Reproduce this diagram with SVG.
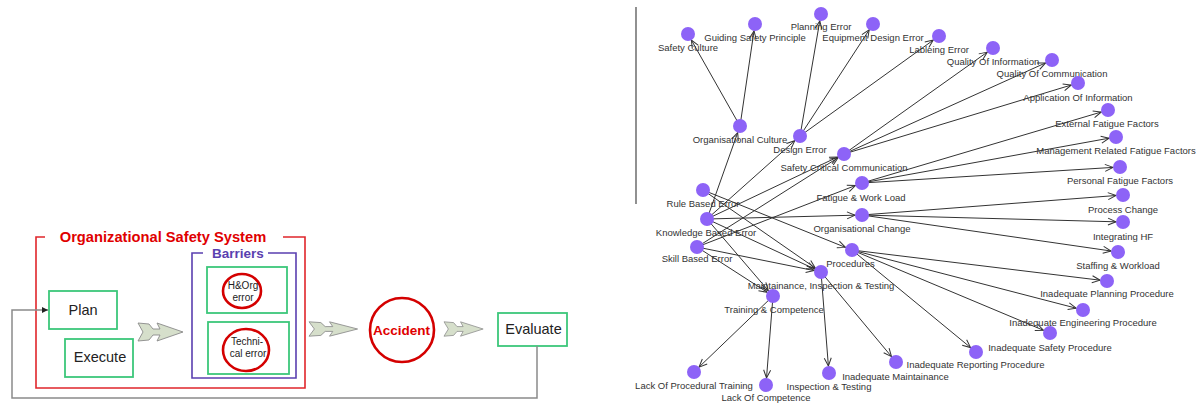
<svg xmlns="http://www.w3.org/2000/svg" width="1202" height="403" viewBox="0 0 1202 403">
  <style>
    .frame-red { fill: none; stroke: #e0262b; stroke-width: 1.6; }
    .frame-blue { fill: none; stroke: #5a3fb0; stroke-width: 1.6; }
    .gbox { fill: #ffffff; stroke: #3cc77a; stroke-width: 1.8; }
    .rcirc { fill: #ffffff; stroke: #d40000; stroke-width: 2.6; }
    .chev { fill: #d6dfcb; stroke: #8a8a8a; stroke-width: 0.9; }
    .lbl { font-family: "Liberation Sans", Arial, sans-serif; fill: #222; text-anchor: middle; }
    .edge { stroke: #333; stroke-width: 1; fill: none; marker-end: url(#open); }
    .node circle { fill: #8d63f7; }
    .node text { font-family: "Liberation Sans", Arial, sans-serif; font-size: 9.5px; fill: #333; text-anchor: middle; }
  </style>
  <defs>
    <marker id="open" viewBox="-9 -5 10 10" refX="0" refY="0" markerWidth="10" markerHeight="10" markerUnits="userSpaceOnUse" orient="auto">
      <path d="M-8,-3.5 L0,0 L-8,3.5" fill="none" stroke="#333" stroke-width="1"/>
    </marker>
    <marker id="solid" viewBox="-7 -4 8 8" refX="0" refY="0" markerWidth="8" markerHeight="8" markerUnits="userSpaceOnUse" orient="auto">
      <path d="M-6,-3 L0,0 L-6,3 Z" fill="#222"/>
    </marker>
    <path id="chevron" d="M0,-9 L11,-8 L15,-3 L22,-3 L19,-9 L45,0 L19,9 L22,3 L15,3 L11,8 L0,9 L5,0 Z"/>
  </defs>

  <rect width="1202" height="403" fill="#ffffff"/>

  <!-- ===== Safety management loop ===== -->
  <g id="safety-system">
    <path class="frame-red" d="M45,237 H36 V388 H305 V237 H283"/>
    <text x="163" y="242" class="lbl" font-size="14.7" font-weight="bold" style="fill:#e00000">Organizational Safety System</text>
  </g>

  <g id="barriers">
    <path class="frame-blue" d="M203,253 H192 V378 H296 V253 H268"/>
    <text x="238" y="258" class="lbl" font-size="13.5" font-weight="bold" style="fill:#5a3fb0">Barriers</text>
  </g>

  <g id="plan">
    <rect class="gbox" x="49" y="291" width="68" height="38"/>
    <text x="83" y="315" class="lbl" font-size="14.5">Plan</text>
  </g>

  <g id="execute">
    <rect class="gbox" x="65" y="339" width="68" height="38"/>
    <text x="100" y="362" class="lbl" font-size="14.5">Execute</text>
  </g>

  <g id="hog-error">
    <rect class="gbox" x="207" y="267" width="80" height="46"/>
    <ellipse class="rcirc" cx="242" cy="291" rx="19" ry="17"/>
    <text x="243" y="289" class="lbl" font-size="10">H&amp;Org</text>
    <text x="243" y="301" class="lbl" font-size="10">error</text>
  </g>

  <g id="technical-error">
    <rect class="gbox" x="208" y="322" width="81" height="52"/>
    <ellipse class="rcirc" cx="246" cy="350" rx="23" ry="21"/>
    <text x="247" y="345" class="lbl" font-size="10">Techni-</text>
    <text x="248" y="357" class="lbl" font-size="10">cal error</text>
  </g>

  <g id="accident">
    <circle class="rcirc" cx="402" cy="330" r="32"/>
    <text x="401.5" y="335" class="lbl" font-size="13.5" font-weight="bold" style="fill:#e00000">Accident</text>
  </g>

  <g id="evaluate">
    <rect class="gbox" x="498" y="313" width="69" height="33"/>
    <text x="533.5" y="334" class="lbl" font-size="14.5">Evaluate</text>
  </g>

  <g id="flow">
    <use href="#chevron" class="chev" transform="translate(138,332)"/>
    <use href="#chevron" class="chev" transform="translate(309,329) scale(1.08,0.8)"/>
    <use href="#chevron" class="chev" transform="translate(444,329) scale(0.87,0.8)"/>
    <path d="M537,346 V398 H12 V310 H48" fill="none" stroke="#8a8a8a" stroke-width="1.5" marker-end="url(#solid)"/>
  </g>

  <!-- separator -->
  <line x1="636" y1="7" x2="636" y2="204" stroke="#555" stroke-width="1.3"/>

  <!-- ===== Causal network ===== -->
  <g id="connectors">
    <line class="edge" x1="740" y1="126" x2="691.4" y2="40.1"/>
    <line class="edge" x1="740" y1="126" x2="754.0" y2="30.9"/>
    <line class="edge" x1="800" y1="136" x2="819.8" y2="20.9"/>
    <line class="edge" x1="800" y1="136" x2="869.2" y2="29.9"/>
    <line class="edge" x1="800" y1="136" x2="933.3" y2="40.1"/>
    <line class="edge" x1="844" y1="154" x2="987.3" y2="52.1"/>
    <line class="edge" x1="844" y1="154" x2="1045.6" y2="62.9"/>
    <line class="edge" x1="844" y1="154" x2="1071.3" y2="85.0"/>
    <line class="edge" x1="862" y1="183" x2="1101.3" y2="112.0"/>
    <line class="edge" x1="862" y1="183" x2="1109.1" y2="138.2"/>
    <line class="edge" x1="862" y1="183" x2="1113.0" y2="167.4"/>
    <line class="edge" x1="862" y1="215" x2="1116.0" y2="195.5"/>
    <line class="edge" x1="862" y1="215" x2="1116.0" y2="221.8"/>
    <line class="edge" x1="862" y1="215" x2="1111.1" y2="251.0"/>
    <line class="edge" x1="852" y1="250" x2="1100.1" y2="280.2"/>
    <line class="edge" x1="852" y1="250" x2="1076.2" y2="308.2"/>
    <line class="edge" x1="852" y1="250" x2="1043.5" y2="330.3"/>
    <line class="edge" x1="852" y1="250" x2="970.6" y2="347.6"/>
    <line class="edge" x1="821" y1="272" x2="891.5" y2="356.6"/>
    <line class="edge" x1="821" y1="272" x2="828.4" y2="366.0"/>
    <line class="edge" x1="773" y1="296" x2="699.0" y2="367.1"/>
    <line class="edge" x1="773" y1="296" x2="766.5" y2="378.0"/>
    <line class="edge" x1="707" y1="219" x2="737.7" y2="132.6"/>
    <line class="edge" x1="707" y1="219" x2="794.8" y2="140.7"/>
    <line class="edge" x1="707" y1="219" x2="837.7" y2="157.0"/>
    <line class="edge" x1="707" y1="219" x2="855.0" y2="215.2"/>
    <line class="edge" x1="707" y1="219" x2="768.4" y2="290.7"/>
    <line class="edge" x1="707" y1="219" x2="814.7" y2="269.0"/>
    <line class="edge" x1="703" y1="190" x2="845.5" y2="247.4"/>
    <line class="edge" x1="703" y1="190" x2="815.3" y2="268.0"/>
    <line class="edge" x1="697" y1="247" x2="838.1" y2="157.7"/>
    <line class="edge" x1="697" y1="247" x2="855.5" y2="185.5"/>
    <line class="edge" x1="697" y1="247" x2="814.1" y2="270.6"/>
    <line class="edge" x1="697" y1="247" x2="767.1" y2="292.2"/>
  </g>

  <g id="n-safety-culture" class="node"><circle cx="688" cy="34" r="7"/><text x="688" y="50.5">Safety Culture</text></g>
  <g id="n-guiding-safety-principle" class="node"><circle cx="755" cy="24" r="7"/><text x="755" y="40.5">Guiding Safety Principle</text></g>
  <g id="n-planning-error" class="node"><circle cx="821" cy="14" r="7"/><text x="821" y="29.5">Planning Error</text></g>
  <g id="n-equipment-design-error" class="node"><circle cx="873" cy="24" r="7"/><text x="873" y="40.5">Equipment Design Error</text></g>
  <g id="n-lableing-error" class="node"><circle cx="939" cy="36" r="7"/><text x="939" y="52.5">Lableing Error</text></g>
  <g id="n-quality-of-information" class="node"><circle cx="993" cy="48" r="7"/><text x="993" y="64.5">Quality Of Information</text></g>
  <g id="n-quality-of-communication" class="node"><circle cx="1052" cy="60" r="7"/><text x="1052" y="76.5">Quality Of Communication</text></g>
  <g id="n-application-of-information" class="node"><circle cx="1078" cy="83" r="7"/><text x="1078" y="100.5">Application Of Information</text></g>
  <g id="n-external-fatigue-factors" class="node"><circle cx="1108" cy="110" r="7"/><text x="1107" y="126.5">External Fatigue Factors</text></g>
  <g id="n-management-related-fatigue-factors" class="node"><circle cx="1116" cy="137" r="7"/><text x="1116" y="153.5">Management Related Fatigue Factors</text></g>
  <g id="n-personal-fatigue-factors" class="node"><circle cx="1120" cy="167" r="7"/><text x="1120" y="183.5">Personal Fatigue Factors</text></g>
  <g id="n-process-change" class="node"><circle cx="1123" cy="195" r="7"/><text x="1123" y="212.5">Process Change</text></g>
  <g id="n-integrating-hf" class="node"><circle cx="1123" cy="222" r="7"/><text x="1123" y="239.5">Integrating HF</text></g>
  <g id="n-staffing-workload" class="node"><circle cx="1118" cy="252" r="7"/><text x="1118" y="268.5">Staffing &amp; Workload</text></g>
  <g id="n-inadequate-planning-procedure" class="node"><circle cx="1107" cy="281" r="7"/><text x="1107" y="296.5">Inadequate Planning Procedure</text></g>
  <g id="n-inadequate-engineering-procedure" class="node"><circle cx="1083" cy="310" r="7"/><text x="1083" y="325.5">Inadequate Engineering Procedure</text></g>
  <g id="n-inadequate-safety-procedure" class="node"><circle cx="1050" cy="333" r="7"/><text x="1050" y="350.5">Inadequate Safety Procedure</text></g>
  <g id="n-inadequate-reporting-procedure" class="node"><circle cx="976" cy="352" r="7"/><text x="975.5" y="367.5">Inadequate Reporting Procedure</text></g>
  <g id="n-inadequate-maintainance" class="node"><circle cx="896" cy="362" r="7"/><text x="895.5" y="379.5">Inadequate Maintainance</text></g>
  <g id="n-inspection-testing" class="node"><circle cx="829" cy="373" r="7"/><text x="829" y="389.5">Inspection &amp; Testing</text></g>
  <g id="n-lack-of-competence" class="node"><circle cx="766" cy="385" r="7"/><text x="766" y="400.5">Lack Of Competence</text></g>
  <g id="n-lack-of-procedural-training" class="node"><circle cx="694" cy="372" r="7"/><text x="694" y="388.5">Lack Of Procedural Training</text></g>
  <g id="n-training-competence" class="node"><circle cx="773" cy="296" r="7"/><text x="774" y="312.5">Training &amp; Competence</text></g>
  <g id="n-maintainance-inspection-testing" class="node"><circle cx="821" cy="272" r="7"/><text x="821" y="288.5">Maintainance, Inspection &amp; Testing</text></g>
  <g id="n-procedures" class="node"><circle cx="852" cy="250" r="7"/><text x="850.5" y="266.5">Procedures</text></g>
  <g id="n-organisational-change" class="node"><circle cx="862" cy="215" r="7"/><text x="862" y="231.5">Organisational Change</text></g>
  <g id="n-fatigue-work-load" class="node"><circle cx="862" cy="183" r="7"/><text x="861" y="200.5">Fatigue &amp; Work Load</text></g>
  <g id="n-safety-critical-communication" class="node"><circle cx="844" cy="154" r="7"/><text x="844" y="170.5">Safety Critical Communication</text></g>
  <g id="n-design-error" class="node"><circle cx="800" cy="136" r="7"/><text x="800" y="152.5">Design Error</text></g>
  <g id="n-organisational-culture" class="node"><circle cx="740" cy="126" r="7"/><text x="740" y="142.5">Organisational Culture</text></g>
  <g id="n-rule-based-error" class="node"><circle cx="703" cy="190" r="7"/><text x="703" y="206.5">Rule Based Error</text></g>
  <g id="n-knowledge-based-error" class="node"><circle cx="707" cy="219" r="7"/><text x="706" y="235.5">Knowledge Based Error</text></g>
  <g id="n-skill-based-error" class="node"><circle cx="697" cy="247" r="7"/><text x="697" y="261.5">Skill Based Error</text></g>
</svg>
